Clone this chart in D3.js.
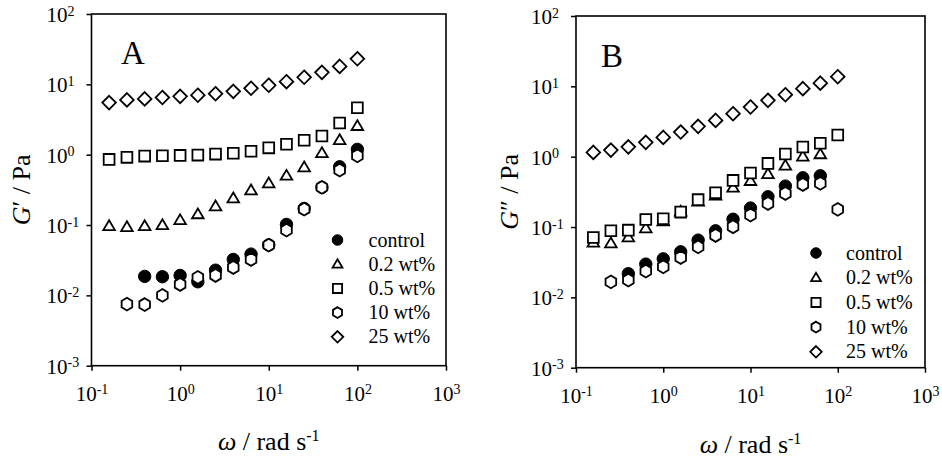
<!DOCTYPE html>
<html>
<head>
<meta charset="utf-8">
<script src="https://cdn.jsdelivr.net/npm/d3@7"></script>
<style>
  html, body { margin: 0; padding: 0; background: #fff; }
  svg { display: block; font-family: "Liberation Serif", "Times New Roman", serif; }
</style>
</head>
<body>
<svg id="chart" width="942" height="462"></svg>
<script>
// ---------- DATA ----------
const freq = [0.158, 0.251, 0.398, 0.631, 1.0, 1.585, 2.51, 3.98, 6.31, 10, 15.85, 25.1, 39.8, 63.1, 100];
const seriesNames = ["control", "0.2 wt%", "0.5 wt%", "10 wt%", "25 wt%"];
const xTicks = [0.1, 1, 10, 100, 1000];
const yTicks = [0.001, 0.01, 0.1, 1, 10, 100];

// Panel A: G' / Pa
const gp_control = [null, null, 0.0186, 0.0184, 0.0192, 0.0156, 0.0228, 0.0324, 0.0386, 0.052, 0.102, 0.172, 0.343, 0.673, 1.19];
const gp_02      = [0.0964, 0.0933, 0.0964, 0.0997, 0.117, 0.142, 0.184, 0.239, 0.310, 0.391, 0.501, 0.659, 1.05, 1.61, 2.55];
const gp_05      = [0.857, 0.916, 0.955, 0.965, 0.977, 0.987, 1.02, 1.05, 1.12, 1.25, 1.41, 1.60, 1.84, 2.82, 4.65];
const gp_10      = [null, 0.0075, 0.0074, 0.0100, 0.0143, 0.018, 0.0192, 0.0249, 0.0324, 0.0518, 0.0845, 0.168, 0.343, 0.604, 0.965];
const gp_25      = [5.5, 6.0, 6.2, 6.5, 6.75, 7.0, 7.35, 7.95, 8.8, 9.7, 10.9, 12.6, 14.8, 18.0, 23.1];

// Panel B: G'' / Pa
const gpp_control = [null, null, 0.0217, 0.0297, 0.0353, 0.0444, 0.0651, 0.0883, 0.129, 0.186, 0.269, 0.382, 0.501, 0.535, null];
const gpp_02      = [0.060, 0.0585, 0.071, 0.0955, 0.12, 0.165, 0.23, 0.28, 0.361, 0.45, 0.565, 0.743, 1.0, 1.08, null];
const gpp_05      = [0.0711, 0.0883, 0.0903, 0.128, 0.131, 0.163, 0.245, 0.306, 0.460, 0.585, 0.803, 1.09, 1.37, 1.55, 2.03];
const gpp_10      = [null, 0.0166, 0.0176, 0.0236, 0.0272, 0.0369, 0.0522, 0.0759, 0.101, 0.148, 0.216, 0.300, 0.403, 0.417, 0.178];
const gpp_25      = [1.15, 1.24, 1.38, 1.60, 1.88, 2.24, 2.70, 3.28, 4.08, 5.08, 6.33, 7.60, 9.26, 11.1, 13.7];

// ---------- DRAWING ----------
const svg = d3.select("#chart");
const symbolKinds = ["circle", "triangle", "square", "hexagon", "diamond"];

function symbolPath(kind, s) {
  switch (kind) {
    case "triangle": {
      const w = 5.8 * s, h = 9.8 * s;
      return `M0,${-h*0.6}L${w},${h*0.4}L${-w},${h*0.4}Z`;
    }
    case "square": {
      const a = 5.4 * s;
      return `M${-a},${-a}H${a}V${a}H${-a}Z`;
    }
    case "hexagon": {
      const rx = 5.3 * s, ry = 6.4 * s;
      return `M0,${-ry}L${rx},${-ry/2}L${rx},${ry/2}L0,${ry}L${-rx},${ry/2}L${-rx},${-ry/2}Z`;
    }
    case "diamond": {
      const a = 6.8 * s;
      return `M0,${-a}L${a},0L0,${a}L${-a},0Z`;
    }
  }
}

function drawMark(g, kind, x, y, s) {
  if (kind === "circle") {
    g.append("circle").attr("cx", x).attr("cy", y).attr("r", 6.2 * s)
      .attr("fill", "#000").attr("stroke", "#000").attr("stroke-width", 1);
  } else {
    g.append("path").attr("d", symbolPath(kind, s))
      .attr("transform", `translate(${x},${y})`)
      .attr("fill", "#fff").attr("stroke", "#000").attr("stroke-width", 1.8)
      .attr("stroke-linejoin", "miter");
  }
}

function supLabel(sel, anchor) {
  sel.each(function(d) {
    const e = Math.round(Math.log10(d));
    const t = d3.select(this);
    t.text(null);
    t.attr("text-anchor", anchor);
    t.append("tspan").text("10");
    t.append("tspan").attr("dy", "-0.45em").attr("font-size", "14px").text(e);
  });
}

function panel(cfg) {
  const x = d3.scaleLog().domain([0.1, 1000]).range([cfg.x0, cfg.x1]);
  const y = d3.scaleLog().domain([0.001, 100]).range([cfg.y1, cfg.y0]);
  const g = svg.append("g");

  // x axis
  const gx = g.append("g").attr("transform", `translate(0,${cfg.y1})`)
    .call(d3.axisBottom(x).tickValues(xTicks).tickSize(5).tickFormat(d => d));
  gx.select(".domain").remove();
  gx.selectAll(".tick line").attr("stroke", "#000").attr("stroke-width", 1.5);
  gx.selectAll(".tick text").attr("font-size", "21px").attr("font-family", "Liberation Serif")
    .attr("fill", "#000").attr("y", cfg.xlabOff).attr("dy", 0).call(supLabel, "middle");

  // y axis
  const gy = g.append("g").attr("transform", `translate(${cfg.x0},0)`)
    .call(d3.axisLeft(y).tickValues(yTicks).tickSize(5).tickFormat(d => d));
  gy.select(".domain").remove();
  gy.selectAll(".tick line").attr("stroke", "#000").attr("stroke-width", 1.5);
  gy.selectAll(".tick text").attr("font-size", "21px").attr("font-family", "Liberation Serif")
    .attr("fill", "#000").attr("x", -45).attr("dy", "0.35em").call(supLabel, "start");

  // frame
  g.append("rect").attr("x", cfg.x0).attr("y", cfg.y0)
    .attr("width", cfg.x1 - cfg.x0).attr("height", cfg.y1 - cfg.y0)
    .attr("fill", "none").attr("stroke", "#000").attr("stroke-width", 1.6);

  // data
  const marks = g.append("g");
  cfg.series.forEach((vals, si) => {
    vals.forEach((v, i) => {
      if (v == null) return;
      drawMark(marks, symbolKinds[si], x(freq[i]), y(v), 1);
    });
  });

  // legend
  const lg = g.append("g");
  seriesNames.forEach((name, i) => {
    const ly = cfg.legY + i * cfg.legDy;
    drawMark(lg, symbolKinds[i], cfg.legX, ly, 0.85);
    lg.append("text").attr("x", cfg.legTextX).attr("y", ly).attr("dy", "0.33em")
      .attr("font-size", "20px").attr("fill", "#000").text(name);
  });

  // panel letter
  g.append("text").attr("x", cfg.letterX).attr("y", cfg.letterY)
    .attr("font-size", "33px").attr("fill", "#000").text(cfg.letter);

  // y title
  const yt = g.append("text")
    .attr("transform", `translate(${cfg.ytX},${(cfg.y0 + cfg.y1) / 2}) rotate(-90)`)
    .attr("text-anchor", "middle").attr("font-size", "26px").attr("fill", "#000");
  yt.append("tspan").attr("font-style", "italic").text("G");
  yt.append("tspan").text(cfg.prime + " / Pa");

  // x title
  const xt = g.append("text")
    .attr("x", (cfg.x0 + cfg.x1) / 2).attr("y", cfg.xtY)
    .attr("text-anchor", "middle").attr("font-size", "26px").attr("fill", "#000");
  xt.append("tspan").attr("font-style", "italic").text("ω");
  xt.append("tspan").text(" / rad s");
  xt.append("tspan").attr("dy", "-0.55em").attr("font-size", "16px").text("-1");
}

panel({
  x0: 91.5, x1: 446, y0: 14, y1: 365.7, xlabOff: 35,
  series: [gp_control, gp_02, gp_05, gp_10, gp_25],
  legX: 337.5, legTextX: 368.5, legY: 240, legDy: 24.2,
  letter: "A", letterX: 121, letterY: 63.5, prime: "′",
  ytX: 30, xtY: 450
});
panel({
  x0: 576, x1: 925, y0: 16, y1: 367.7, xlabOff: 35,
  series: [gpp_control, gpp_02, gpp_05, gpp_10, gpp_25],
  legX: 816, legTextX: 846, legY: 253, legDy: 24.7,
  letter: "B", letterX: 601, letterY: 66.5, prime: "″",
  ytX: 518, xtY: 453
});
</script>
</body>
</html>
